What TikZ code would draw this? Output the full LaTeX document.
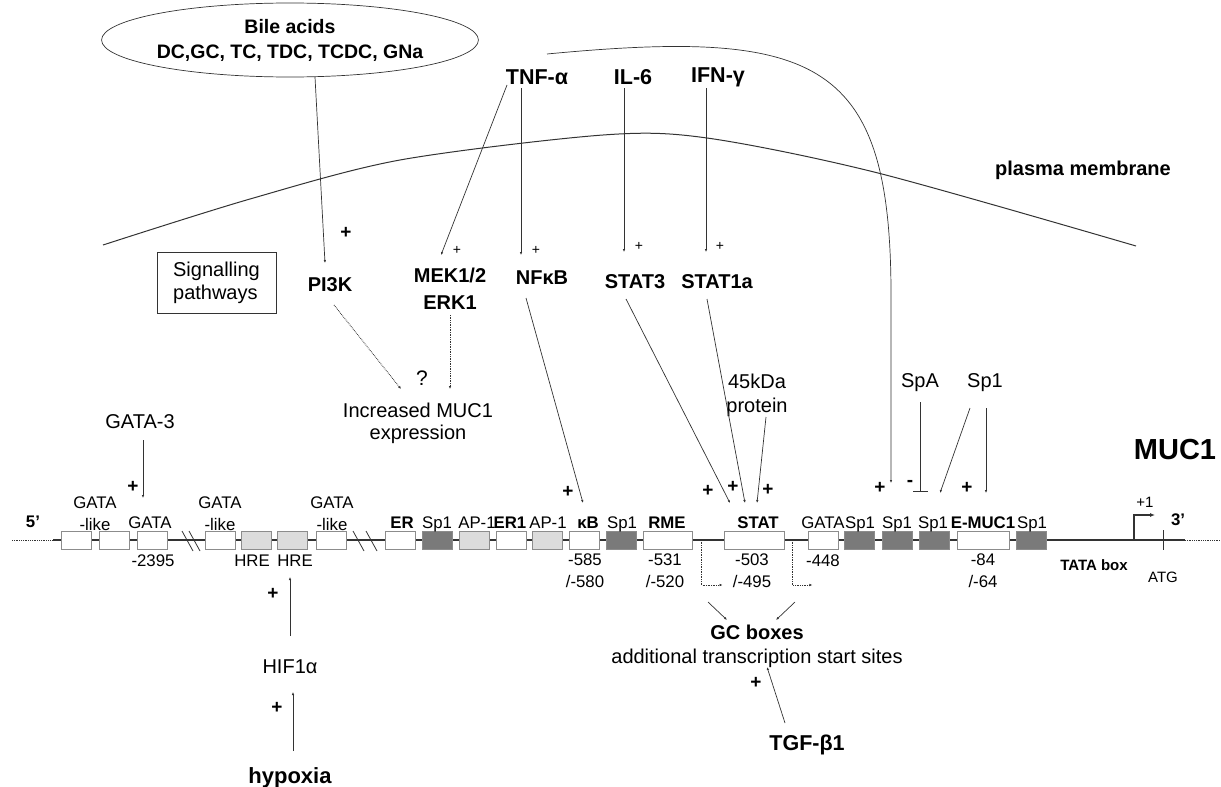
\documentclass[tikz,border=0pt]{standalone}
\usepackage{fontspec}
\setmainfont{Liberation Sans}
\usetikzlibrary{shapes}
\usetikzlibrary{arrows.meta}
\definecolor{darkbox}{HTML}{7A7A7A}
\definecolor{lightbox}{HTML}{DCDCDC}
\definecolor{boxline}{HTML}{8C8C8C}
\definecolor{linkgray}{HTML}{333333}

\begin{document}
\begin{tikzpicture}[x=1pt,y=-1pt,
	every node/.style={inner sep=0pt},
	txt/.style={font=\fontsize{16.8}{22}\selectfont},
	btxt/.style={font=\fontsize{16.8}{22}\selectfont\bfseries},
	mid/.style={font=\fontsize{20}{22}\selectfont},
	bmid/.style={font=\fontsize{20}{27}\selectfont\bfseries},
	big/.style={font=\fontsize{21.5}{24}\selectfont\bfseries},
	plus/.style={font=\fontsize{19}{20}\selectfont\bfseries},
	smallplus/.style={font=\fontsize{14}{16}\selectfont},
	box/.style={draw=boxline,line width=0.8pt,minimum height=18,minimum width=30},
	link/.style={draw=linkgray,line width=0.7pt,-{Latex[length=3pt,width=2.5pt]}},
	hint/.style={link,densely dotted,line width=0.9pt}]
		\useasboundingbox (0,0) rectangle (1221,787);
		\draw[line width=1pt,linkgray] plot[smooth] coordinates {(103,245) (250,199) (400,160) (603,135) (707,138) (878,173) (1136,246)};
		\node[bmid] (pm) at (1083,170) {plasma membrane};
		\node[ellipse,draw=linkgray,line width=0.7pt,minimum width=336,minimum height=74,align=center,font=\fontsize{19.5}{25}\selectfont\bfseries] (bile) at (290,40) {Bile acids\\DC,GC, TC, TDC, TCDC, GNa};
		\node[big] (tnf) at (537,77) {TNF-α};
		\node[big] (il6) at (633,77) {IL-6};
		\node[big] (ifn) at (718,77) {IFN-γ};
		\node[draw=linkgray,line width=0.7pt,minimum width=119,minimum height=61,align=left,font=\fontsize{20}{23}\selectfont] (sig) at (216.5,282.5) {Signalling\\pathways};
		\node[bmid] (pi3k) at (330,285) {PI3K};
		\node[bmid,align=center] (mek) at (450,289) {MEK1/2\\ERK1};
		\node[bmid] (nfkb) at (542,278) {NFκB};
		\node[bmid] (stat3) at (635,282) {STAT3};
		\node[bmid] (stat1) at (717,282) {STAT1a};
		\node[mid,font=\fontsize{21}{22}\selectfont] (qm) at (422,378) {?};
		\node[mid,align=center] (incr) at (418,423) {Increased MUC1\\expression};
		\node[mid,align=center,font=\fontsize{20}{24}\selectfont] (kda) at (757,395) {45kDa\\protein};
		\node[mid] (gata3) at (140,422) {GATA-3};
		\node[mid] (spa) at (920,383) {SpA};
		\node[mid] (sp1t) at (985,383) {Sp1};
		\node[font=\fontsize{29}{30}\selectfont\bfseries] (muc1) at (1175,450) {MUC1};
		\foreach \n/\px/\py in {pa/346/233,pb/133/487,pc/568/492,pd/708/491,pe/733/487,pf/768/490,pg/880/488,ph/967/488,pi/273/594,pj/277/708,pk/756/683}
			\node[plus] (\n) at (\px,\py) {+};
		\foreach \n/\px/\py in {sa/457/250,sb/536/250,sc/639/246,sd/720/246}
			\node[smallplus] (\n) at (\px,\py) {+};
		\node[plus] (mi) at (910,483) {-};
		\draw[line width=0.8pt,densely dotted,linkgray] (12,540) -- (53,540) (1185,540) -- (1221,540);
		\draw[line width=1.3pt,linkgray] (53,540) -- (1185,540);
		\draw[line width=0.8pt,linkgray] (182,531) -- (193,551) (189,531) -- (200,551) (353,531) -- (364,551) (366,531) -- (377,551);
		\foreach \n/\cx/\w/\f in {1/76/30/white,2/114/30/white,3/152/30/white,4/220/30/white,5/256/30/lightbox,6/292/30/lightbox,7/331/30/white,8/400/30/white,9/437/30/darkbox,10/474/30/lightbox,11/511/30/white,12/547/30/lightbox,13/584/30/white,14/621/30/darkbox,15/667.5/49/white,16/754/60/white,17/823/30/white,18/859/30/darkbox,19/897/30/darkbox,20/934/30/darkbox,21/983/52/white,22/1031/30/darkbox}
			\node[box,fill=\f,minimum width=\w] (b\n) at (\cx,540) {};
		\node[btxt] (five) at (33,522) {5'};
		\node[btxt] (three) at (1178,520) {3'};
		\node[txt,align=center] (lga) at (95,514) {GATA\\-like};
		\node[txt,align=center] (lgb) at (220,514) {GATA\\-like};
		\node[txt,align=center] (lgc) at (332,514) {GATA\\-like};
		\foreach \n/\lx/\t in {lg/150/GATA,lspa/437/Sp1,lapa/477/AP-1,lapb/548/AP-1,lspb/622/Sp1,lgata/823/GATA,lspc/860/Sp1,lspd/897/Sp1,lspe/933/Sp1,lspf/1032/Sp1}
			\node[txt,anchor=base] (\n) at (\lx,528) {\t};
		\foreach \n/\lx/\t in {ler/402/ER,lera/510/ER1,lkb/588/κB,lrme/667/RME,lstat/758/STAT,lemuc/983/E-MUC1}
			\node[btxt,anchor=base] (\n) at (\lx,528) {\t};
		\node[txt,anchor=base] (na) at (153,566) {-2395};
		\node[txt,anchor=base] (hrea) at (252,566) {HRE};
		\node[txt,anchor=base] (hreb) at (295,566) {HRE};
		\node[txt,align=center] (nb) at (585,571) {-585\\/-580};
		\node[txt,align=center] (nc) at (665,571) {-531\\/-520};
		\node[txt,align=center] (nd) at (752,571) {-503\\/-495};
		\node[txt,anchor=base] (ne) at (823,566) {-448};
		\node[txt,align=center] (nf) at (983,571) {-84\\/-64};
		\node[font=\fontsize{15}{16}\selectfont\bfseries,anchor=base] (tata) at (1094,570) {TATA box};
		\node[font=\fontsize{15}{16}\selectfont,anchor=base] (atg) at (1163,582) {ATG};
		\node[font=\fontsize{15}{16}\selectfont] (one) at (1145,502) {+1};
		\node[mid] (hif) at (290,667) {HIF1α};
		\node[font=\fontsize{22}{24}\selectfont\bfseries,anchor=base] (hypo) at (290,783) {hypoxia};
		\node[font=\fontsize{20}{22}\selectfont\bfseries] (gc) at (757,632) {GC boxes};
		\node[mid,anchor=base] (addl) at (757,663) {additional transcription start sites};
		\node[big] (tgf) at (807,745) {TGF-β1};
		\draw[link] ([shift={(25,37)}]bile.center) -- ([shift={(-5,-22)}]pi3k.center);
		\draw[link] ([shift={(-30,8)}]tnf.center) -- ([shift={(-9,-34)}]mek.center);
		\draw[link] ([shift={(-16,11)}]tnf.center) -- ([shift={(-21,-23)}]nfkb.center);
		\draw[link] ([shift={(-9,11)}]il6.center) -- ([shift={(-11,-30)}]stat3.center);
		\draw[link] ([shift={(-12,11)}]ifn.center) -- ([shift={(-11,-30)}]stat1.center);
		\draw[link] ([shift={(10,-23)}]tnf.center) .. controls (820,28) and (892,60) .. (891,300) -- ([shift={(-6,-57)}]b19.center);
		\draw[hint] ([shift={(4,20)}]pi3k.center) -- ([shift={(-17,-34)}]incr.center);
		\draw[hint] ([shift={(0,26)}]mek.center) -- ([shift={(32,-34)}]incr.center);
		\draw[link] ([shift={(3,18)}]gata3.center) -- ([shift={(-9,-42)}]b3.center);
		\draw[link] ([shift={(-16,20)}]nfkb.center) -- ([shift={(-1,-37)}]b13.center);
		\draw[link] ([shift={(-9,17)}]stat3.center) -- ([shift={(-24,-37)}]b16.center);
		\draw[link] ([shift={(-10,17)}]stat1.center) -- ([shift={(-9,-37)}]b16.center);
		\draw[link] ([shift={(9,22)}]kda.center) -- ([shift={(3,-37)}]b16.center);
		\draw[link,-{Bar[width=15pt]}] ([shift={(0,19)}]spa.center) -- ([shift={(-14,-48)}]b20.center);
		\draw[link] ([shift={(-15,25)}]sp1t.center) -- ([shift={(6,-47)}]b20.center);
		\draw[link] ([shift={(1,25)}]sp1t.center) -- ([shift={(3,-47)}]b21.center);
		\draw[link] ([shift={(0,-31)}]hif.center) -- ([shift={(-2,37)}]b6.center);
		\draw[link] ([shift={(3,-32)}]hypo.base) -- ([shift={(3,25)}]hif.center);
		\draw[hint] ([shift={(-22,0)}]b16.west) -- ++(0,45) -- ++(21,0);
		\draw[hint] ([shift={(8,0)}]b16.east) -- ++(0,45) -- ++(20,0);
		\draw[link] ([shift={(-49,-30)}]gc.center) -- ([shift={(-30,-12)}]gc.center);
		\draw[link] ([shift={(38,-30)}]gc.center) -- ([shift={(19,-12)}]gc.center);
		\draw[link] ([shift={(-22,-22)}]tgf.center) -- ([shift={(10,4)}]addl.base);
		\coordinate (tss) at (1134,540);
		\draw[line width=1.1pt,linkgray,-{Latex[length=5pt,width=4pt]}] (tss) -- ++(0,-25) -- ++(21,0);
		\draw[line width=1pt,linkgray] (1163,530) -- (1163,550);
\end{tikzpicture}
\end{document}
